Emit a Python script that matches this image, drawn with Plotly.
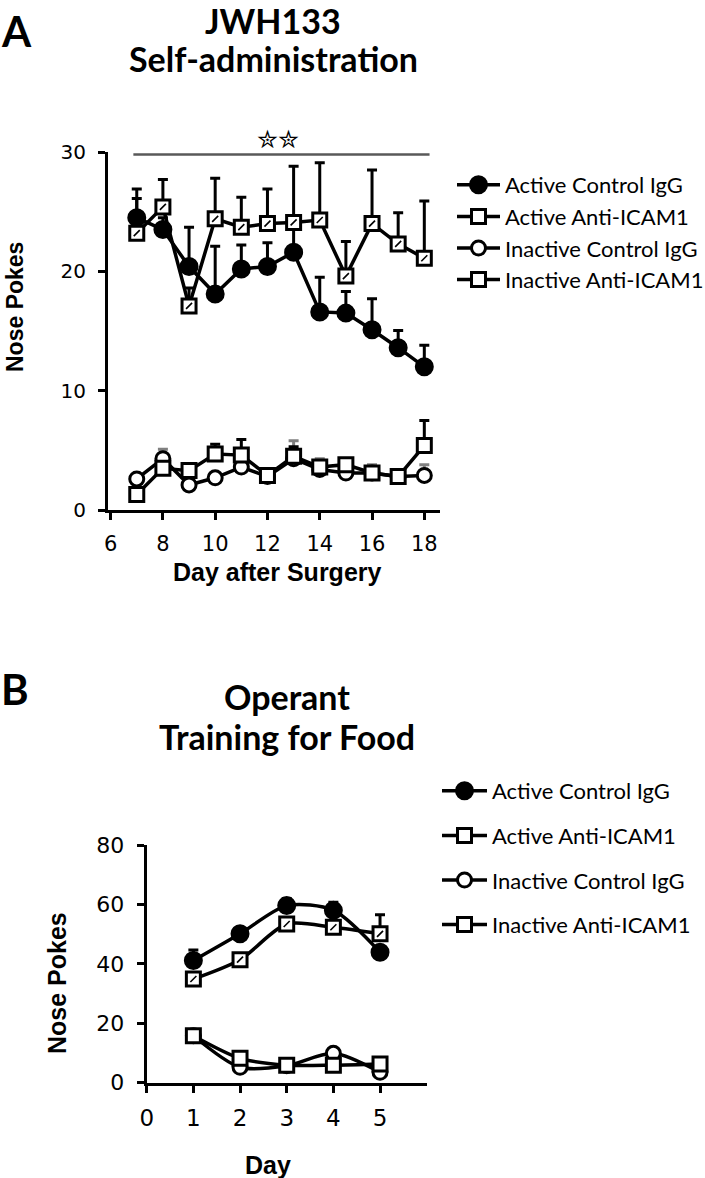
import plotly.graph_objects as go

# Panel A - JWH133 self-administration
days_a = [7, 8, 9, 10, 11, 12, 13, 14, 15, 16, 17, 18]
act_ctrl_a = [24.5, 23.5, 20.4, 18.1, 20.2, 20.4, 21.6, 16.6, 16.5, 15.1, 13.6, 12.0]
act_ctrl_a_err = [1.6, 1.0, 3.3, 4.0, 2.0, 2.0, 2.0, 2.9, 1.8, 2.6, 1.45, 1.8]
act_anti_a = [23.2, 25.4, 17.1, 24.4, 23.7, 24.0, 24.1, 24.3, 19.6, 24.0, 22.3, 21.1]
act_anti_a_err = [3.7, 2.3, 1.5, 3.4, 2.5, 2.9, 4.7, 4.8, 2.9, 4.5, 2.6, 4.8]
inact_ctrl_a = [2.6, 4.3, 2.1, 2.7, 3.6, 2.8, 4.3, 3.4, 3.1, 3.1, 2.8, 2.9]
inact_ctrl_a_err = [0.3, 0.8, 0.3, 0.4, 0.5, 0.3, 1.5, 0.9, 0.7, 0.7, 0.4, 0.9]
inact_anti_a = [1.3, 3.5, 3.3, 4.7, 4.6, 2.9, 4.5, 3.6, 3.8, 3.1, 2.8, 5.4]
inact_anti_a_err = [0.3, 0.5, 0.4, 0.8, 1.3, 0.3, 0.8, 0.5, 0.4, 0.4, 0.3, 2.1]
xticks_a = [6, 8, 10, 12, 14, 16, 18]
yticks_a = [0, 10, 20, 30]

# Panel B - operant training for food
days_b = [1, 2, 3, 4, 5]
act_ctrl_b = [41.1, 50.1, 59.6, 58.0, 43.9]
act_ctrl_b_err = [3.6, 1.2, 2.4, 2.7, 1.5]
act_anti_b = [34.9, 41.4, 53.4, 52.3, 50.1]
act_anti_b_err = [1.2, 1.2, 1.5, 1.5, 6.4]
inact_ctrl_b = [15.8, 5.2, 5.7, 9.9, 3.5]
inact_ctrl_b_err = [0.8, 0.5, 0.5, 0.8, 0.5]
inact_anti_b = [15.8, 8.2, 5.9, 5.9, 6.3]
inact_anti_b_err = [0.8, 0.5, 0.5, 0.5, 0.5]
xticks_b = [0, 1, 2, 3, 4, 5]
yticks_b = [0, 20, 40, 60, 80]

names = ["Active Control IgG", "Active Anti-ICAM1", "Inactive Control IgG", "Inactive Anti-ICAM1"]

W, H = 705, 1178
BLACK = "black"
LEGEND_FONT = "Lato"
TITLE_FONT = "Lato"
ARIAL = "Liberation Sans, Arial"
TICKS = "DejaVu Sans"

styles = [
    dict(symbol="circle", fill=BLACK, size=16, errcol=BLACK),
    dict(symbol="square", fill="white", size=14, errcol=BLACK),
    dict(symbol="circle", fill="white", size=14, errcol="#808080"),
    dict(symbol="square", fill="white", size=14, errcol=BLACK),
]

fig = go.Figure()


def add_series(x, y, err, i, xa, ya, legend, shape):
    st = styles[i]
    fig.add_trace(go.Scatter(
        x=x, y=y, name=names[i], mode="lines+markers",
        xaxis=xa, yaxis=ya, legend=legend, legendgroup=legend + str(i),
        line=dict(color=BLACK, width=3.5, shape=shape, smoothing=0.8),
        marker=dict(symbol=st["symbol"], size=st["size"], color=st["fill"],
                    line=dict(color=BLACK, width=3)),
        error_y=dict(type="data", symmetric=False, array=err,
                     arrayminus=[0] * len(err), color=st["errcol"],
                     thickness=3, width=5),
        cliponaxis=False,
    ))
    if i == 1:
        # speckled fill of the active anti-ICAM1 squares
        fig.add_trace(go.Scatter(
            x=x, y=y, mode="markers", xaxis=xa, yaxis=ya, showlegend=False,
            hoverinfo="skip", cliponaxis=False,
            marker=dict(symbol="line-ne", size=6, line=dict(color=BLACK, width=1.6)),
        ))


a_sets = [(act_ctrl_a, act_ctrl_a_err), (act_anti_a, act_anti_a_err),
          (inact_ctrl_a, inact_ctrl_a_err), (inact_anti_a, inact_anti_a_err)]
for i, (y, e) in enumerate(a_sets):
    add_series(days_a, y, e, i, "x", "y", "legend", "linear")

b_sets = [(act_ctrl_b, act_ctrl_b_err), (act_anti_b, act_anti_b_err),
          (inact_ctrl_b, inact_ctrl_b_err), (inact_anti_b, inact_anti_b_err)]
for i, (y, e) in enumerate(b_sets):
    add_series(days_b, y, e, i, "x2", "y2", "legend2", "spline")


def px_x(p):
    return p / W


def px_y(p):
    return 1 - p / H


axis_common = dict(showline=True, linecolor=BLACK, linewidth=3, showgrid=False,
                   zeroline=False, ticks="outside", ticklen=7, tickwidth=2.5,
                   tickcolor=BLACK, automargin=False)

fig.update_layout(
    width=W, height=H,
    margin=dict(l=0, r=0, t=0, b=0, autoexpand=False),
    paper_bgcolor="white", plot_bgcolor="white",
    showlegend=True,
    xaxis=dict(axis_common, domain=[px_x(108), px_x(440)], range=[5.9, 18.6],
               tickvals=xticks_a, anchor="y", ticklabelstandoff=6,
               tickfont=dict(family=TICKS, size=21, color=BLACK)),
    yaxis=dict(axis_common, domain=[px_y(510), px_y(152)], range=[0, 30],
               tickvals=yticks_a, anchor="x", ticklabelstandoff=8,
               tickfont=dict(family=TICKS, size=20, color=BLACK)),
    xaxis2=dict(axis_common, domain=[px_x(146.7), px_x(426.7)], range=[0, 6],
                tickvals=xticks_b, anchor="y2", ticklabelstandoff=6,
                tickfont=dict(family=TICKS, size=23, color=BLACK)),
    yaxis2=dict(axis_common, domain=[px_y(1082.7), px_y(845)], range=[0, 80],
                tickvals=yticks_b, anchor="x2", ticklabelstandoff=8,
                tickfont=dict(family=TICKS, size=22, color=BLACK)),
    legend=dict(x=px_x(452), y=px_y(164), xanchor="left", yanchor="top",
                bgcolor="rgba(0,0,0,0)", tracegroupgap=0, itemwidth=43,
                font=dict(family=LEGEND_FONT, size=22, color=BLACK)),
    legend2=dict(x=px_x(437), y=px_y(770), xanchor="left", yanchor="top",
                 bgcolor="rgba(0,0,0,0)", tracegroupgap=13, itemwidth=45,
                 font=dict(family=LEGEND_FONT, size=22, color=BLACK)),
    shapes=[dict(type="line", xref="x", yref="y", x0=6.87, x1=18.2, y0=29.8, y1=29.8,
                 line=dict(color="#595959", width=2.5))],
)

ann = [
    ("A", 0, 31, "left", 42),
    ("B", 0, 689, "left", 42),
    ("JWH133", 273, 20, "center", 34),
    ("Self-administration", 273, 58, "center", 34),
    ("Operant", 287, 696, "center", 34),
    ("Training for Food", 287, 736, "center", 34),
]
for text, px, py, xanc, size in ann:
    fig.add_annotation(text="<b>" + text + "</b>", x=px_x(px), y=px_y(py),
                       xref="paper", yref="paper", showarrow=False,
                       xanchor=xanc, yanchor="middle", borderpad=0,
                       font=dict(family=TITLE_FONT, size=size, color=BLACK))

axis_titles = [
    ("Nose Pokes", 15, 307, -90, 23),
    ("Day after Surgery", 277, 572, 0, 25),
    ("Nose Pokes", 57, 983, -90, 25),
    ("Day", 268, 1165, 0, 25),
]
for text, px, py, ang, size in axis_titles:
    fig.add_annotation(text="<b>" + text + "</b>", x=px_x(px), y=px_y(py),
                       xref="paper", yref="paper", showarrow=False, textangle=ang,
                       xanchor="center", yanchor="middle",
                       font=dict(family=ARIAL, size=size, color=BLACK))

# significance stars above the bar
fig.add_annotation(text="✮✮", x=12.4, y=px_y(139), xref="x", yref="paper",
                   showarrow=False, yanchor="middle",
                   font=dict(family="DejaVu Sans", size=25, color=BLACK))

fig.write_html("out.html", config={"displayModeBar": False},
               post_script="document.body.style.margin='0px';")
